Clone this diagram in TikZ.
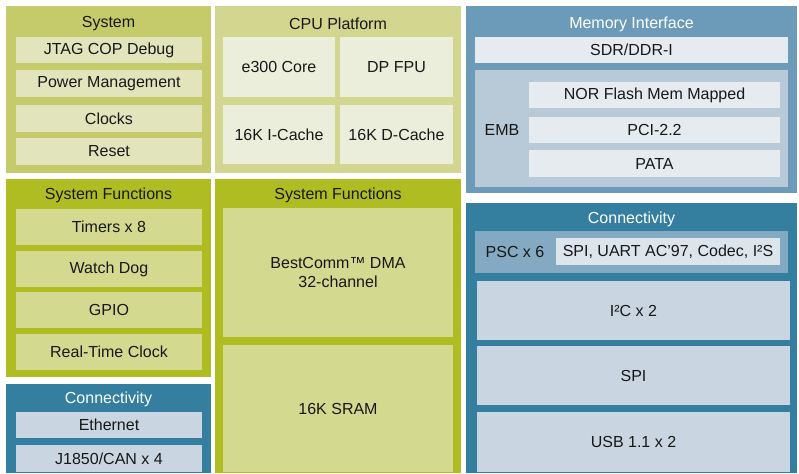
\documentclass[tikz,border=0pt]{standalone}
\usepackage{fontspec}
\setmainfont{Liberation Sans}
\usepackage{xcolor}
\usetikzlibrary{positioning}

\definecolor{syspanel}{HTML}{C5CA6A}
\definecolor{sysitem}{HTML}{E2E5BC}
\definecolor{cpupanel}{HTML}{D3D68F}
\definecolor{cpuitem}{HTML}{ECEEDC}
\definecolor{funcpanel}{HTML}{AFBD22}
\definecolor{funcitem}{HTML}{D3D98F}
\definecolor{mempanel}{HTML}{6B9BB8}
\definecolor{memitem}{HTML}{E6EBEF}
\definecolor{embarea}{HTML}{B8CAD8}
\definecolor{conpanel}{HTML}{347FA0}
\definecolor{conitem}{HTML}{C9D6E1}
\definecolor{pscarea}{HTML}{84A9C2}
\definecolor{pscitem}{HTML}{DDE5EC}
\definecolor{labeltext}{HTML}{181818}

\tikzset{
  chipblock/.style={
    rectangle,
    draw=none,
    inner sep=0pt,
    outer sep=0pt,
    align=center,
    text=labeltext,
    font=\fontsize{16}{19}\selectfont
  },
  paneltitle/.style={
    inner sep=0pt,
    text=labeltext,
    font=\fontsize{16}{19}\selectfont
  },
  whitetitle/.style={
    paneltitle,
    text=white
  }
}

% name, style, x1, y1, x2, y2, text
\newcommand{\chipbox}[7]{%
  \node[chipblock, #2, minimum width=#5pt-#3pt, minimum height=#6pt-#4pt]
    (#1) at ({(#3+#5)/2},{(#4+#6)/2}) {#7};}

\begin{document}
\begin{tikzpicture}[x=1pt, y=-1pt]
  \useasboundingbox[fill=white] (0,0) rectangle (799,473);

  % System
  \chipbox{sys}{fill=syspanel}{6}{6}{211}{173}{}
  \node[paneltitle] (systitle) at (108.5,24) {System};
  \chipbox{jtag}{fill=sysitem}{16}{37}{202}{63}{JTAG COP Debug}
  \chipbox{power}{fill=sysitem}{16}{70}{202}{97}{Power Management}
  \chipbox{clocks}{fill=sysitem}{16}{105}{202}{132}{Clocks}
  \chipbox{reset}{fill=sysitem}{16}{138}{202}{165}{Reset}

  % CPU Platform
  \chipbox{cpu}{fill=cpupanel}{215}{6}{461}{173}{}
  \node[paneltitle] (cputitle) at (338,24) {CPU Platform};
  \chipbox{core}{fill=cpuitem}{223}{37}{335}{97}{e300 Core}
  \chipbox{fpu}{fill=cpuitem}{340}{37}{453}{97}{DP FPU}
  \chipbox{icache}{fill=cpuitem}{223}{105}{335}{164}{16K I-Cache}
  \chipbox{dcache}{fill=cpuitem}{340}{105}{453}{164}{16K D-Cache}

  % Memory Interface
  \chipbox{mem}{fill=mempanel}{466}{6}{797}{193}{}
  \node[whitetitle] (memtitle) at (631.5,24) {Memory Interface};
  \chipbox{sdr}{fill=memitem}{475}{37}{788}{63}{SDR/DDR-I}
  \chipbox{emb}{fill=embarea}{475}{70}{788}{187}{}
  \node[paneltitle] (emblabel) at (502,130) {EMB};
  \chipbox{nor}{fill=memitem}{529}{82}{780}{108}{NOR Flash Mem Mapped}
  \chipbox{pci}{fill=memitem}{529}{117}{780}{143}{PCI-2.2}
  \chipbox{pata}{fill=memitem}{529}{150}{780}{177}{PATA}

  % System Functions (left)
  \chipbox{func}{fill=funcpanel}{6}{179}{211}{377}{}
  \node[paneltitle] (functitle) at (108.5,195) {System Functions};
  \chipbox{timers}{fill=funcitem}{16}{209}{202}{245}{Timers x 8}
  \chipbox{watchdog}{fill=funcitem}{16}{251}{202}{287}{Watch Dog}
  \chipbox{gpio}{fill=funcitem}{16}{292}{202}{328}{GPIO}
  \chipbox{rtc}{fill=funcitem}{16}{334}{202}{370}{Real-Time Clock}

  % Connectivity (left)
  \chipbox{conleft}{fill=conpanel}{6}{384}{211}{473}{}
  \node[whitetitle] (conlefttitle) at (108.5,399) {Connectivity};
  \chipbox{ethernet}{fill=conitem}{16}{412}{202}{438}{Ethernet}
  \chipbox{can}{fill=conitem}{16}{445}{202}{472}{J1850/CAN x 4}

  % System Functions (middle)
  \chipbox{dma}{fill=funcpanel}{215}{179}{461}{473}{}
  \node[paneltitle] (dmatitle) at (338,195) {System Functions};
  \chipbox{bestcomm}{fill=funcitem}{223}{208}{453}{337}{BestComm™ DMA\\32-channel}
  \chipbox{sram}{fill=funcitem}{223}{345}{453}{472}{16K SRAM}

  % Connectivity (right)
  \chipbox{conright}{fill=conpanel}{466}{203}{797}{473}{}
  \node[whitetitle] (conrighttitle) at (631.5,219) {Connectivity};
  \chipbox{psc}{fill=pscarea}{475}{231}{788}{273}{}
  \node[paneltitle] (psclabel) at (515,252) {PSC x 6};
  \chipbox{pscmodes}{fill=pscitem}{556}{238}{780}{265}{SPI, UART AC’97, Codec, I²S}
  \chipbox{iic}{fill=conitem}{477}{281}{790}{340}{I²C x 2}
  \chipbox{spi}{fill=conitem}{477}{346}{790}{405}{SPI}
  \chipbox{usb}{fill=conitem}{477}{412}{790}{472}{USB 1.1 x 2}
\end{tikzpicture}
\end{document}
